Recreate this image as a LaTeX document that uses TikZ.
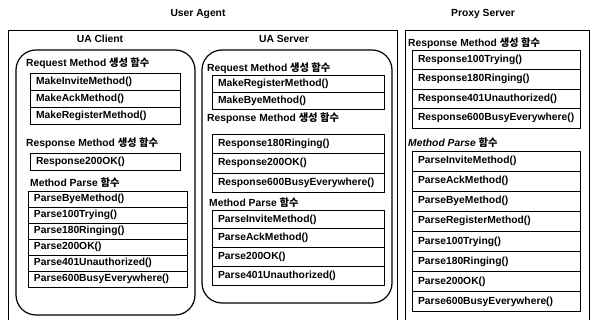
\documentclass[tikz,border=0pt]{standalone}
\usepackage{fontspec}
\setmainfont{Liberation Sans}
\newfontfamily\krfont{Noto Sans CJK KR}
\usetikzlibrary{positioning}

\newcommand{\kr}[1]{{\krfont #1}}
\newcommand{\boxfont}{\fontsize{10.3}{12}\selectfont\bfseries}

\tikzset{
  heading/.style={font=\boxfont, inner sep=0pt},
  group/.style={font=\boxfont, anchor=west, inner sep=0pt},
  method/.style={draw, line width=0.8pt, font=\boxfont, anchor=north west,
    align=left, inner xsep=6pt, inner ysep=0pt, outer sep=0pt},
  frame/.style={draw, line width=0.8pt},
  module/.style={draw, line width=1.2pt, rounded corners=20pt}
}

\begin{document}
\begin{tikzpicture}[x=1pt,y=-1pt]

      \useasboundingbox (0,0) rectangle (595,320);

      % outer frames, open at the bottom
      \draw[frame] (8,324) |- (397,30) -- (397,324);
      \draw[frame] (405,324) |- (589,30) -- (589,324);
      \draw[module] (16,50) rectangle (195,315);
      \draw[module] (202,50) rectangle (392,303);

      \node[heading] (ua) at (198,14) {User Agent};
      \node[heading] (ps) at (483,14) {Proxy Server};
      \node[heading] (uac) at (100,39) {UA Client};
      \node[heading] (uas) at (284,39) {UA Server};

      % UA Client
      \node[group] (creq) at (26,63) {Request Method \kr{생성 함수}};
      \node[group] (cres) at (26,143) {Response Method \kr{생성 함수}};
      \node[group] (cpar) at (30,183) {Method Parse \kr{함수}};

      \begin{scope}[every node/.style={method, text width=138pt, minimum height=17pt}]
        \node (c1) at (30,73) {MakeInviteMethod()};
        \node[below=0pt of c1] (c2) {MakeAckMethod()};
        \node[below=0pt of c2] (c3) {MakeRegisterMethod()};
        \node (c4) at (30,153) {Response200OK()};
      \end{scope}

      \begin{scope}[every node/.style={method, text width=147pt, minimum height=16pt}]
        \node (c5)  at (28,191) {ParseByeMethod()};
        \node[below=0pt of c5] (c6)  {Parse100Trying()};
        \node[below=0pt of c6] (c7)  {Parse180Ringing()};
        \node[below=0pt of c7] (c8)  {Parse200OK()};
        \node[below=0pt of c8] (c9)  {Parse401Unauthorized()};
        \node[below=0pt of c9] (c10) {Parse600BusyEverywhere()};
      \end{scope}

      % UA Server
      \node[group] (sreq) at (207,68) {Request Method \kr{생성 함수}};
      \node[group] (sres) at (207,118) {Response Method \kr{생성 함수}};
      \node[group] (spar) at (209,203) {Method Parse \kr{함수}};

      \begin{scope}[every node/.style={method, text width=160pt, minimum height=17pt}]
        \node (s1) at (212,75) {MakeRegisterMethod()};
        \node[below=0pt of s1] (s2) {MakeByeMethod()};
      \end{scope}

      \begin{scope}[every node/.style={method, text width=160pt, minimum height=19.5pt}]
        \node (s3) at (212,134) {Response180Ringing()};
        \node[below=0pt of s3] (s4) {Response200OK()};
        \node[below=0pt of s4] (s5) {Response600BusyEverywhere()};
      \end{scope}

      \begin{scope}[every node/.style={method, text width=160pt, minimum height=18.75pt}]
        \node (s6) at (212,210) {ParseInviteMethod()};
        \node[below=0pt of s6] (s7) {ParseAckMethod()};
        \node[below=0pt of s7] (s8) {Parse200OK()};
        \node[below=0pt of s8] (s9) {Parse401Unauthorized()};
      \end{scope}

      % Proxy Server
      \node[group] (pres) at (408,43) {Response Method \kr{생성 함수}};
      \node[group, font=\boxfont\itshape] (ppar) at (408,143) {Method Parse \kr{함수}};

      \begin{scope}[every node/.style={method, text width=156pt, minimum height=19.5pt}]
        \node (p1) at (412,50) {Response100Trying()};
        \node[below=0pt of p1] (p2) {Response180Ringing()};
        \node[below=0pt of p2] (p3) {Response401Unauthorized()};
        \node[below=0pt of p3] (p4) {Response600BusyEverywhere()};
      \end{scope}

      \begin{scope}[every node/.style={method, text width=156pt, minimum height=20.1pt}]
        \node (p5)  at (412,151) {ParseInviteMethod()};
        \node[below=0pt of p5]  (p6)  {ParseAckMethod()};
        \node[below=0pt of p6]  (p7)  {ParseByeMethod()};
        \node[below=0pt of p7]  (p8)  {ParseRegisterMethod()};
        \node[below=0pt of p8]  (p9)  {Parse100Trying()};
        \node[below=0pt of p9]  (p10) {Parse180Ringing()};
        \node[below=0pt of p10] (p11) {Parse200OK()};
        \node[below=0pt of p11] (p12) {Parse600BusyEverywhere()};
      \end{scope}

    \end{tikzpicture}
\end{document}
